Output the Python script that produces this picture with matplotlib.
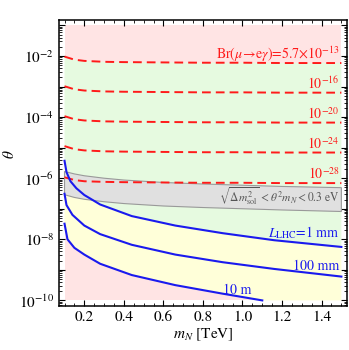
import numpy as np
import matplotlib
matplotlib.use("Agg")
import matplotlib.pyplot as plt
from matplotlib.ticker import FixedLocator, MultipleLocator, FuncFormatter, LogLocator, NullFormatter

plt.rcParams['font.family'] = ['STIXGeneral', 'DejaVu Sans']
plt.rcParams['mathtext.fontset'] = 'stix'

# heavy neutrino mass grid [TeV]
m_grid = [0.1, 0.15, 0.2, 0.3, 0.4, 0.6, 0.8, 1.0, 1.2, 1.5]

# Br(mu -> e gamma) contours, log10(theta)
br_labels = [r"Br($\mu\!\rightarrow\!$e$\gamma$)=5.7$\times$10$^{-13}$",
             r"10$^{-16}$", r"10$^{-20}$", r"10$^{-24}$", r"10$^{-28}$"]
log_theta_br13 = [-2.02, -2.12, -2.16, -2.19, -2.20, -2.21, -2.22, -2.22, -2.23, -2.23]
log_theta_br16 = [-2.99, -3.09, -3.13, -3.16, -3.17, -3.18, -3.19, -3.19, -3.20, -3.20]
log_theta_br20 = [-3.97, -4.07, -4.11, -4.14, -4.15, -4.16, -4.17, -4.17, -4.18, -4.18]
log_theta_br24 = [-4.95, -5.05, -5.09, -5.12, -5.13, -5.14, -5.15, -5.15, -5.16, -5.16]
log_theta_br28 = [-5.97, -6.06, -6.10, -6.12, -6.13, -6.14, -6.15, -6.15, -6.16, -6.16]

# seesaw band sqrt(dm2_sol) < theta^2 m_N < 0.3 eV, log10(theta)
log_theta_band_hi = [-5.78, -5.86, -5.92, -6.00, -6.06, -6.14, -6.19, -6.23, -6.27, -6.31]
log_theta_band_lo = [-6.54, -6.63, -6.69, -6.77, -6.83, -6.91, -6.96, -7.00, -7.04, -7.09]

# LHC decay length contours
m_1mm = [0.1, 0.11, 0.13, 0.16, 0.2, 0.28, 0.44, 0.66, 0.9, 1.16, 1.5]
log_theta_1mm = [-5.43, -5.80, -6.10, -6.33, -6.55, -6.86, -7.24, -7.55, -7.80, -8.03, -8.25]
m_100mm = [0.1, 0.11, 0.14, 0.2, 0.28, 0.44, 0.66, 0.9, 1.16, 1.5]
log_theta_100mm = [-6.51, -6.88, -7.20, -7.55, -7.83, -8.18, -8.50, -8.75, -8.97, -9.22]
m_10m = [0.1, 0.115, 0.15, 0.2, 0.28, 0.44, 0.66, 0.9, 1.1]
log_theta_10m = [-7.49, -8.00, -8.28, -8.50, -8.80, -9.17, -9.50, -9.78, -10.0]

pink = '#ffe4e4'
green = '#e6fae0'
yellow = '#ffffd9'
gray = '#e0e0e0'


def th(vals):
    return [10.0 ** v for v in vals]


fig = plt.figure(figsize=(3.49, 3.5), dpi=100)
ax = fig.add_axes([0.169, 0.126, 0.825, 0.817])
ax.set_yscale('log')

# background regions
ax.fill([0.1, 1.5, 1.5, 0.1], [1e-10, 1e-10, 1e-1, 1e-1], color=pink, lw=0, zorder=0)
ax.fill(m_grid + m_1mm[::-1], th(log_theta_br13) + th(log_theta_1mm)[::-1],
        color=green, lw=0, zorder=1)
ax.fill(m_10m + [1.5] + m_1mm[::-1], th(log_theta_10m) + [1e-10] + th(log_theta_1mm)[::-1],
        color=yellow, lw=0, zorder=2)
ax.fill(m_grid + m_grid[::-1], th(log_theta_band_hi) + th(log_theta_band_lo)[::-1],
        facecolor=gray, edgecolor='#999999', lw=0.8, zorder=3)

# Br contours
br_lines = [log_theta_br13, log_theta_br16, log_theta_br20, log_theta_br24, log_theta_br28]
for vals, lab in zip(br_lines, br_labels):
    ax.plot(m_grid, th(vals), color='#ff1a1a', lw=1.4, dashes=(4.5, 2.6), zorder=5)
    ax.text(1.49, 10 ** (vals[-1] + 0.13), lab, color='#ff1a1a', fontsize=10,
            ha='right', va='baseline', zorder=6)

# decay length contours
for mm, vals in [(m_1mm, log_theta_1mm), (m_100mm, log_theta_100mm), (m_10m, log_theta_10m)]:
    ax.plot(mm, th(vals), color='#1a1aee', lw=1.5, zorder=5)

ax.text(1.49, 10 ** -7.78, r"$L_{\rm LHC}$=1 mm", color='#1a1aee', fontsize=10,
        ha='right', va='center', zorder=6)
ax.text(1.49, 10 ** -8.89, "100 mm", color='#1a1aee', fontsize=10,
        ha='right', va='center', zorder=6)
ax.text(0.975, 10 ** -9.67, "10 m", color='#1a1aee', fontsize=10,
        ha='center', va='center', zorder=6)
ax.text(1.49, 10 ** -6.58, r"$\sqrt{\Delta m^2_{\rm sol}}\, < \theta^2 m_N < 0.3$ eV",
        color='#555555', fontsize=8.3, ha='right', va='center', zorder=6)

ax.set_xlim(0.072, 1.528)
ax.set_ylim(10 ** -10.18, 10 ** -0.82)

ax.xaxis.set_major_locator(MultipleLocator(0.2))
ax.xaxis.set_minor_locator(MultipleLocator(0.05))
ax.yaxis.set_major_locator(FixedLocator([10.0 ** k for k in range(-10, 0)]))
ax.yaxis.set_minor_locator(LogLocator(base=10, subs=np.arange(2, 10), numticks=20))
ax.yaxis.set_minor_formatter(NullFormatter())


def ylab(v, pos):
    k = int(round(np.log10(v)))
    return r"10$^{%d}$" % k if k % 2 == 0 else ""


ax.yaxis.set_major_formatter(FuncFormatter(ylab))
ax.xaxis.set_major_formatter(FuncFormatter(lambda v, p: "%.1f" % v))

ax.tick_params(which='both', direction='in', top=True, right=True, labelsize=11)
ax.tick_params(which='major', length=4, width=0.8)
ax.tick_params(which='minor', length=2, width=0.6)
for s in ax.spines.values():
    s.set_linewidth(1.1)

ax.set_xlabel(r"$m_N$ [TeV]", fontsize=11, labelpad=2)
ax.set_ylabel(r"$\theta$", fontsize=11)
ax.yaxis.set_label_coords(-0.145, 0.53)

fig.savefig("out.png", dpi=100)
